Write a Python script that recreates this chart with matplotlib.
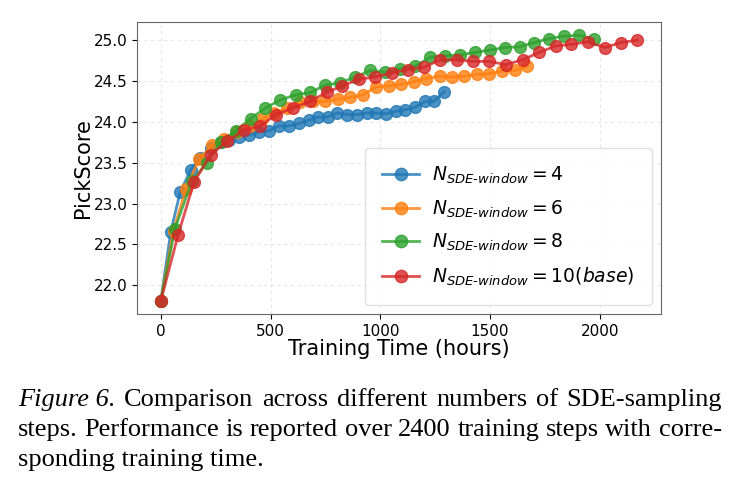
import matplotlib
matplotlib.use('Agg')
import matplotlib.pyplot as plt

# training time (hours) and PickScore for each SDE window size
t_w4 = [0, 45, 88, 136, 179, 227, 273, 311, 356, 401, 447, 492, 538, 583, 629,
        674, 715, 760, 803, 848, 894, 939, 982, 1027, 1071, 1114, 1159, 1205, 1245, 1291]
ps_w4 = [21.81, 22.65, 23.14, 23.41, 23.56, 23.68, 23.75, 23.78, 23.82, 23.84,
         23.88, 23.89, 23.95, 23.95, 23.98, 24.02, 24.06, 24.06, 24.11, 24.09,
         24.09, 24.11, 24.11, 24.10, 24.13, 24.15, 24.18, 24.25, 24.25, 24.37]

t_w6 = [0, 58, 114, 174, 235, 288, 348, 406, 462, 518, 576, 636, 694, 750, 806,
        864, 921, 982, 1038, 1094, 1152, 1210, 1270, 1326, 1382, 1439, 1497, 1556, 1614, 1670]
ps_w6 = [21.81, 22.67, 23.18, 23.54, 23.72, 23.79, 23.87, 23.95, 24.03, 24.11,
         24.17, 24.24, 24.25, 24.25, 24.28, 24.30, 24.33, 24.43, 24.44, 24.46,
         24.49, 24.53, 24.56, 24.55, 24.56, 24.58, 24.59, 24.62, 24.63, 24.68]

t_w8 = [0, 64, 141, 209, 273, 341, 409, 477, 545, 614, 682, 750, 818, 886, 955,
        1023, 1091, 1159, 1227, 1295, 1364, 1432, 1500, 1568, 1636, 1701, 1770, 1838, 1906, 1974]
ps_w8 = [21.81, 22.69, 23.27, 23.50, 23.75, 23.89, 24.04, 24.17, 24.27, 24.33,
         24.36, 24.45, 24.48, 24.55, 24.63, 24.61, 24.65, 24.68, 24.79, 24.81,
         24.82, 24.85, 24.88, 24.91, 24.92, 24.97, 25.02, 25.05, 25.06, 25.01]

t_w10 = [0, 79, 151, 227, 303, 379, 451, 527, 603, 679, 755, 826, 901, 977, 1053,
         1126, 1201, 1273, 1349, 1424, 1497, 1573, 1649, 1724, 1800, 1871, 1947, 2023, 2095, 2171]
ps_w10 = [21.81, 22.62, 23.26, 23.60, 23.76, 23.90, 23.95, 24.09, 24.17, 24.25,
          24.36, 24.44, 24.52, 24.55, 24.60, 24.64, 24.67, 24.76, 24.76, 24.74,
          24.74, 24.70, 24.76, 24.85, 24.93, 24.95, 24.98, 24.91, 24.97, 25.00]

labels = [r'$N_{SDE\text{-}window} = 4$',
          r'$N_{SDE\text{-}window} = 6$',
          r'$N_{SDE\text{-}window} = 8$',
          r'$N_{SDE\text{-}window} = 10(base)$']

caption = [
    "Comparison across different numbers of SDE-sampling",
    "steps. Performance is reported over 2400 training steps with corre-",
    "sponding training time.",
]

fig = plt.figure(figsize=(7.39, 4.87), dpi=100)
ax = fig.add_axes([0.1854, 0.3552, 0.7091, 0.5996])

series = [(t_w4, ps_w4), (t_w6, ps_w6), (t_w8, ps_w8), (t_w10, ps_w10)]
colors = ['tab:blue', 'tab:orange', 'tab:green', 'tab:red']
for (t, ps), c, lab in zip(series, colors, labels):
    ax.plot(t, ps, '-o', color=c, lw=2, markersize=8.5, alpha=0.8, label=lab)

ax.set_xlabel('Training Time (hours)', fontsize=15, labelpad=0)
ax.set_ylabel('PickScore', fontsize=15, labelpad=0)
ax.tick_params(labelsize=11)
ax.set_xticks([0, 500, 1000, 1500, 2000])
ax.set_yticks([22.0, 22.5, 23.0, 23.5, 24.0, 24.5, 25.0])
ax.grid(True, linestyle=(0, (3, 3)), alpha=0.3)
for s in ax.spines.values():
    s.set_color('#666666')

leg = ax.legend(loc='lower right', fontsize=13.5, framealpha=0.9, borderpad=0.9,
                labelspacing=0.65, handletextpad=0.7, markerscale=1.05)
leg.get_frame().set_edgecolor('#dddddd')

# caption, justified like the paper text
left, right = 18, 722
base_y = [406, 436, 466]
fs = 19
W, H = fig.get_size_inches() * fig.dpi
r = fig.canvas.get_renderer()

def width(s, style='normal'):
    t = fig.text(0, 0, s, fontsize=fs, family='Liberation Serif', style=style)
    w = t.get_window_extent(r).width
    t.remove()
    return w

lead = "Figure 6."
fig.text(left / W, 1 - base_y[0] / H, lead, fontsize=fs, family='Liberation Serif',
         style='italic', va='baseline')
lines = [(left + width(lead, 'italic'), caption[0]), (left, caption[1])]
for i, (x0, line) in enumerate(lines):
    words = line.split(' ')
    ws = [width(w) for w in words]
    n_gaps = len(words) if i == 0 else len(words) - 1
    gap = (right - x0 - sum(ws)) / n_gaps
    x = x0 + (gap if i == 0 else 0)
    for w, wd in zip(words, ws):
        fig.text(x / W, 1 - base_y[i] / H, w, fontsize=fs, family='Liberation Serif',
                 va='baseline')
        x += wd + gap
fig.text(left / W, 1 - base_y[2] / H, caption[2], fontsize=fs,
         family='Liberation Serif', va='baseline')

fig.savefig('out.png', dpi=100)
